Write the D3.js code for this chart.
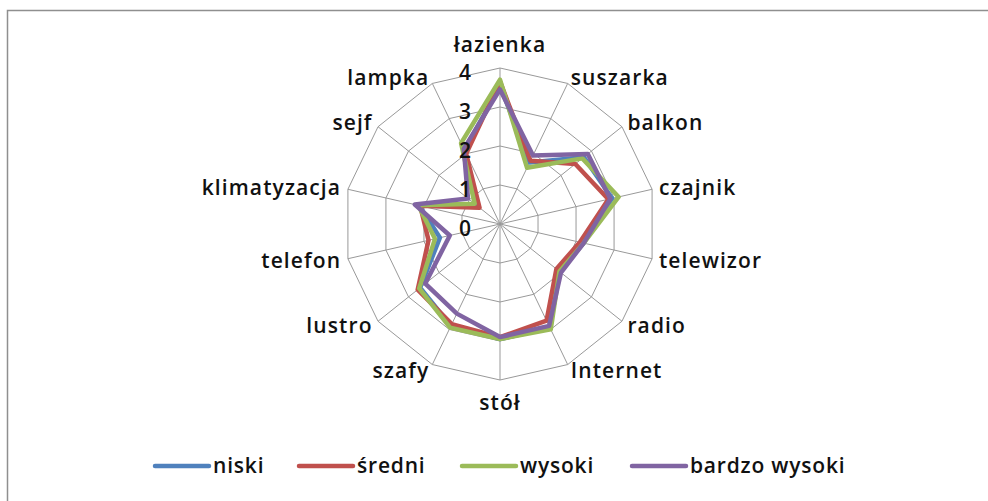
<!DOCTYPE html>
<html>
<head>
<meta charset="utf-8">
<script src="https://cdn.jsdelivr.net/npm/d3@7"></script>
<style>
  body { margin: 0; background: #fff; }
  text { font-family: "Open Sans", sans-serif; fill: #111; font-weight: 600; }
</style>
</head>
<body>
<script>
var width = 988;
var height = 501;

// categories, clockwise from the top
var categories = ["łazienka", "suszarka", "balkon", "czajnik", "telewizor", "radio", "Internet",
                  "stół", "szafy", "lustro", "telefon", "klimatyzacja", "sejf", "lampka"];

var seriesNames = ["niski", "średni", "wysoki", "bardzo wysoki"];
var seriesColors = ["#4f81bd", "#c0504d", "#9bbb59", "#8064a2"];

var niski        = [3.55, 1.75, 2.75, 2.95, 2.2, 1.95, 2.95, 2.95, 2.9, 2.62, 1.58, 2.12, 0.7, 2.1];
var sredni       = [3.65, 1.8, 2.47, 2.85, 2.1, 1.85, 2.75, 2.9, 2.85, 2.7, 1.88, 2.1, 0.67, 2.0];
var wysoki       = [3.7, 1.6, 2.7, 3.12, 2.2, 1.95, 3.0, 2.95, 2.95, 2.65, 1.71, 2.15, 0.83, 2.3];
var bardzoWysoki = [3.45, 1.95, 2.88, 2.9, 2.2, 2.0, 2.9, 2.9, 2.55, 2.45, 1.32, 2.24, 1.05, 2.14];

var tickValues = [0, 1, 2, 3, 4];

var seriesValues = [niski, sredni, wysoki, bardzoWysoki];

var cx = 500, cy = 224;

var svg = d3.select("body").append("svg")
    .attr("width", width)
    .attr("height", height);

// chart frame (only top and left edge are inside the window)
svg.append("rect")
    .attr("x", 7.5)
    .attr("y", 10.5)
    .attr("width", 1000)
    .attr("height", 600)
    .attr("fill", "none")
    .attr("stroke", "#8f8f8f")
    .attr("stroke-width", 1.5);

var rScale = d3.scaleLinear().domain([0, 4]).range([0, 156]);
var angleScale = d3.scaleLinear().domain([0, categories.length]).range([0, 2 * Math.PI]);

var g = svg.append("g").attr("transform", "translate(" + cx + "," + cy + ")");

var radial = d3.lineRadial()
    .angle(function(d, i) { return angleScale(i); })
    .radius(function(d) { return rScale(d); })
    .curve(d3.curveLinearClosed);

// grid rings
g.selectAll("path.ring")
    .data(tickValues.slice(1))
    .enter().append("path")
    .attr("class", "ring")
    .attr("d", function(t) { return radial(categories.map(function() { return t; })); })
    .attr("fill", "none")
    .attr("stroke", "#999")
    .attr("stroke-width", 1);

// spokes
g.selectAll("line.spoke")
    .data(categories)
    .enter().append("line")
    .attr("class", "spoke")
    .attr("x1", 0).attr("y1", 0)
    .attr("x2", function(d, i) { return rScale(4) * Math.sin(angleScale(i)); })
    .attr("y2", function(d, i) { return -rScale(4) * Math.cos(angleScale(i)); })
    .attr("stroke", "#999")
    .attr("stroke-width", 1);

// series
g.selectAll("path.series")
    .data(seriesValues)
    .enter().append("path")
    .attr("class", "series")
    .attr("d", radial)
    .attr("fill", "none")
    .attr("stroke", function(d, i) { return seriesColors[i]; })
    .attr("stroke-width", 4.5)
    .attr("stroke-linejoin", "round");

// value axis labels
g.selectAll("text.tick")
    .data(tickValues)
    .enter().append("text")
    .attr("class", "tick")
    .attr("x", -29)
    .attr("y", function(d) { return -rScale(d) + 12; })
    .attr("text-anchor", "end")
    .style("font-size", "21px")
    .text(function(d) { return d; });

// category labels
g.selectAll("text.cat")
    .data(categories)
    .enter().append("text")
    .attr("class", "cat")
    .each(function(d, i) {
        var a = angleScale(i);
        var s = Math.sin(a), c = Math.cos(a);
        var anchor = s > 0.1 ? "start" : (s < -0.1 ? "end" : "middle");
        var r = rScale(4) + (anchor === "middle" ? 23 : 7);
        d3.select(this)
            .attr("x", r * s)
            .attr("y", -r * c)
            .attr("dy", "0.35em")
            .attr("text-anchor", anchor);
    })
    .style("font-size", "21px")
    .style("letter-spacing", "1.1px")
    .text(function(d) { return d; });

// legend
var legendX = [153, 297, 460, 630];
var legend = svg.selectAll("g.legend")
    .data(seriesNames)
    .enter().append("g")
    .attr("class", "legend")
    .attr("transform", function(d, i) { return "translate(" + legendX[i] + ",466)"; });

legend.append("line")
    .attr("x1", 2).attr("x2", 56)
    .attr("y1", 0).attr("y2", 0)
    .attr("stroke", function(d, i) { return seriesColors[i]; })
    .attr("stroke-width", 4.5)
    .attr("stroke-linecap", "round");

legend.append("text")
    .attr("x", 60)
    .attr("y", 0)
    .attr("dy", "0.35em")
    .style("font-size", "21px")
    .style("letter-spacing", "0.8px")
    .text(function(d) { return d; });
</script>
</body>
</html>
